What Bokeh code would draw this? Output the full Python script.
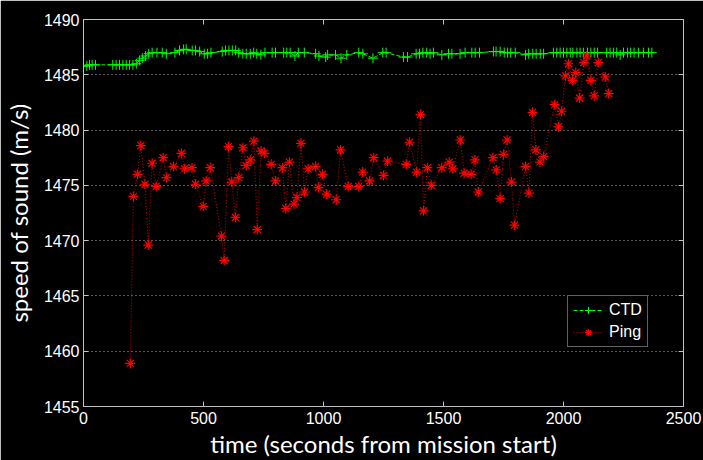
from bokeh.plotting import figure
from bokeh.models import LinearAxis, FixedTicker, Legend, LegendItem, Range1d
from bokeh.embed import file_html
from bokeh.resources import INLINE

# ---- data ----
ctd_t = [0, 14, 25, 36, 50, 122, 136, 150, 164, 178, 192, 206, 220, 234, 245, 259, 272, 286,
         306, 328, 345, 381, 400, 417, 428, 453, 467, 484, 503, 517, 531, 578, 592, 606, 620,
         634, 647, 664, 678, 695, 709, 722, 739, 756, 786, 800, 834, 847, 861, 881, 895, 920,
         967, 981, 1009, 1017, 1050, 1073, 1097, 1147, 1164, 1206, 1247, 1261, 1333, 1350,
         1386, 1400, 1414, 1430, 1444, 1458, 1493, 1521, 1535, 1569, 1590, 1618, 1632, 1650,
         1708, 1719, 1736, 1753, 1767, 1780, 1799, 1842, 1855, 1872, 1886, 1903, 1917, 1958,
         1972, 1986, 2000, 2014, 2028, 2039, 2056, 2069, 2083, 2100, 2114, 2128, 2142, 2180,
         2194, 2208, 2222, 2236, 2250, 2267, 2280, 2294, 2312, 2333, 2354, 2368]
ctd_v = [1485.8, 1485.8, 1485.9, 1485.9, 1485.9, 1485.9, 1485.9, 1485.9, 1485.9, 1485.9, 1485.9,
         1485.9, 1486.0, 1486.3, 1486.5, 1486.7, 1486.9, 1487.0, 1487.0, 1487.0, 1486.9, 1487.0,
         1487.2, 1487.3, 1487.3, 1487.2, 1487.2, 1487.1, 1486.9, 1486.9, 1487.0, 1487.1, 1487.2,
         1487.2, 1487.2, 1487.2, 1487.0, 1486.9, 1486.9, 1486.9, 1487.0, 1486.9, 1486.8, 1487.0,
         1487.0, 1487.0, 1487.0, 1487.0, 1487.0, 1486.7, 1487.0, 1487.0, 1486.9, 1486.7, 1486.6,
         1486.8, 1486.8, 1486.5, 1486.8, 1487.0, 1486.9, 1486.5, 1487.0, 1487.0, 1486.6, 1486.6,
         1486.9, 1486.9, 1487.0, 1487.0, 1486.9, 1487.0, 1486.8, 1486.9, 1486.9, 1486.9, 1487.0,
         1487.0, 1487.0, 1487.0, 1487.1, 1487.1, 1487.1, 1487.0, 1487.0, 1487.0, 1487.0, 1486.8,
         1486.9, 1486.9, 1486.9, 1486.9, 1486.9, 1487.0, 1487.0, 1487.0, 1487.0, 1487.0, 1487.0,
         1487.0, 1487.0, 1487.0, 1487.0, 1487.0, 1487.0, 1487.0, 1487.0, 1487.0, 1487.0, 1487.0,
         1487.0, 1486.8, 1487.0, 1487.0, 1487.0, 1487.0, 1487.0, 1487.0, 1487.0, 1487.0]

ping_t = [195, 208, 225, 239, 256, 270, 286, 303, 332, 346, 375, 408, 421, 452, 467, 499, 511,
          528, 575, 586, 604, 618, 633, 647, 664, 678, 695, 710, 724, 740, 754, 782, 800, 829,
          843, 858, 877, 889, 906, 921, 936, 967, 979, 996, 1013, 1053, 1071, 1103, 1147, 1163,
          1192, 1209, 1250, 1267, 1345, 1358, 1388, 1404, 1417, 1433, 1449, 1493, 1524, 1539,
          1570, 1586, 1615, 1631, 1645, 1706, 1720, 1736, 1750, 1765, 1783, 1796, 1842, 1856,
          1871, 1885, 1902, 1917, 1963, 1979, 1992, 2008, 2021, 2038, 2051, 2067, 2085, 2097,
          2114, 2128, 2145, 2174, 2188]
ping_v = [1458.9, 1474.0, 1476.0, 1478.6, 1475.1, 1469.6, 1477.0, 1474.9, 1477.5, 1475.7, 1476.7,
          1477.9, 1476.5, 1476.6, 1475.1, 1473.1, 1475.4, 1476.6, 1470.4, 1468.2, 1478.5, 1475.3,
          1472.1, 1475.7, 1478.4, 1476.8, 1477.3, 1479.0, 1471.0, 1478.1, 1477.9, 1476.9, 1475.4,
          1476.6, 1472.9, 1477.1, 1473.3, 1473.9, 1478.8, 1474.4, 1476.5, 1476.7, 1474.8, 1476.0,
          1474.2, 1473.7, 1478.2, 1474.9, 1474.9, 1476.2, 1475.4, 1477.5, 1475.9, 1477.2, 1476.9,
          1478.9, 1476.2, 1481.4, 1472.7, 1476.6, 1475.0, 1476.6, 1477.1, 1476.5, 1479.1, 1476.1,
          1476.0, 1477.3, 1474.4, 1477.5, 1476.4, 1473.8, 1477.8, 1479.1, 1475.3, 1471.4, 1476.7,
          1474.3, 1481.6, 1478.2, 1477.1, 1477.6, 1482.3, 1480.3, 1481.7, 1484.9, 1486.0, 1484.5,
          1485.2, 1482.9, 1486.1, 1486.7, 1484.5, 1483.1, 1486.1, 1484.8, 1483.3]

x_ticks = [0, 500, 1000, 1500, 2000, 2500]
y_ticks = [1455, 1460, 1465, 1470, 1475, 1480, 1485, 1490]

AXIS_COL = "#c0c0c0"
TXT_COL = "#ffffff"
TICK_FONT = "Liberation Sans"
LABEL_FONT = "Lato"

p = figure(width=703, height=460, output_backend="svg", toolbar_location=None,
           x_range=Range1d(0, 2500), y_range=Range1d(1455, 1490),
           background_fill_color="black", border_fill_color="black",
           min_border_left=83, min_border_right=20, min_border_top=19, min_border_bottom=54)
p.outline_line_color = AXIS_COL

def style_axis(ax, show_labels=True):
    ax.axis_line_color = AXIS_COL
    ax.major_tick_line_color = AXIS_COL
    ax.major_tick_in = 5
    ax.major_tick_out = 0
    ax.minor_tick_line_color = None
    ax.major_label_text_color = TXT_COL if show_labels else None
    ax.major_label_text_font = TICK_FONT
    ax.major_label_text_font_size = "16px"

for ax in p.xaxis:
    ax.ticker = FixedTicker(ticks=x_ticks)
    style_axis(ax)
    ax.major_label_standoff = 5
    ax.axis_label = "time (seconds from mission start)"
    ax.axis_label_standoff = 2
for ax in p.yaxis:
    ax.ticker = FixedTicker(ticks=y_ticks)
    style_axis(ax)
    ax.major_label_standoff = 4
    ax.axis_label = "speed of sound (m/s)"
    ax.axis_label_standoff = 8

for ax in list(p.xaxis) + list(p.yaxis):
    ax.axis_label_text_color = TXT_COL
    ax.axis_label_text_font = LABEL_FONT
    ax.axis_label_text_font_size = "24px"
    ax.axis_label_text_font_style = "normal"

ax_r = LinearAxis(ticker=FixedTicker(ticks=y_ticks))
style_axis(ax_r, show_labels=False)
p.add_layout(ax_r, "right")
ax_t = LinearAxis(ticker=FixedTicker(ticks=x_ticks))
style_axis(ax_t, show_labels=False)
p.add_layout(ax_t, "above")
ax_r.major_label_text_font_size = "0px"
ax_t.major_label_text_font_size = "0px"
ax_r.major_label_standoff = 0
ax_t.major_label_standoff = 0

p.xgrid.grid_line_color = None
p.ygrid.grid_line_color = "#b0b0b0"
p.ygrid.grid_line_dash = "1 3"
p.ygrid.grid_line_width = 1

ctd_line = p.line(ctd_t, ctd_v, line_color="#00ff00", line_dash="4 2", line_width=1)
ctd_mark = p.scatter(ctd_t, ctd_v, marker="cross", size=10, line_color="#00ff00", line_width=1)
ping_line = p.line(ping_t, ping_v, line_color="#d00000", line_dash="1 2", line_width=1)
ping_mark = p.scatter(ping_t, ping_v, marker="asterisk", size=10, line_color="#ff0000", line_width=1.2)

legend = Legend(items=[LegendItem(label="CTD", renderers=[ctd_line, ctd_mark]),
                       LegendItem(label="Ping", renderers=[ping_line, ping_mark])],
                location=(484, 59))
legend.background_fill_color = "black"
legend.background_fill_alpha = 1
legend.border_line_color = AXIS_COL
legend.label_text_color = TXT_COL
legend.label_text_font = TICK_FONT
legend.label_text_font_size = "16px"
legend.glyph_width = 30
legend.glyph_height = 18
legend.label_height = 18
legend.spacing = 4
legend.padding = 5
legend.margin = 0
legend.label_standoff = 6
p.add_layout(legend, "center")

html = file_html(p, INLINE)
html = html.replace("<body>", '<body style="background-color:black; overflow:hidden;">', 1)
open("out.html", "w").write(html)
